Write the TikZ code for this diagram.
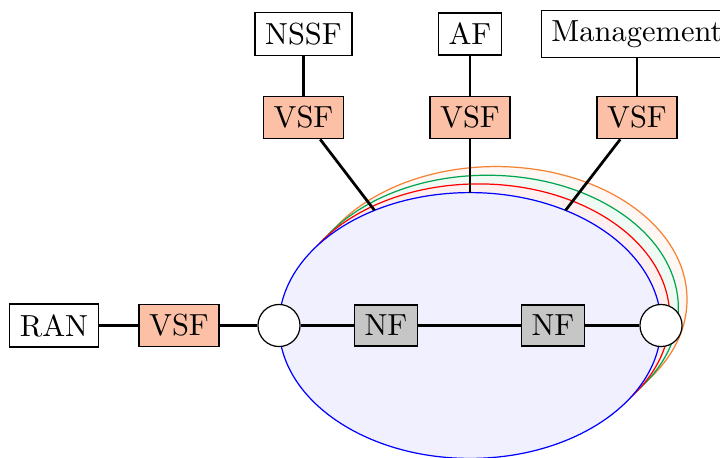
\documentclass[tikz,border=0pt]{standalone}
\usetikzlibrary{calc}
\definecolor{vsffill}{RGB}{251,192,166}
\definecolor{nffill}{RGB}{198,198,198}
\definecolor{ringgreen}{RGB}{0,165,80}
\definecolor{ringorange}{RGB}{245,130,50}
\begin{document}
\begin{tikzpicture}[x=0.328pt,y=-0.328pt,
  box/.style={draw,fill=white,line width=0.4pt},
  vsfbox/.style={draw,fill=vsffill,line width=0.4pt},
  nfbox/.style={draw,fill=nffill,line width=0.4pt},
  hub/.style={circle,draw,fill=white,minimum size=13.8pt,inner sep=0pt,line width=0.4pt},
  link/.style={line width=0.9pt},
  slice/.style={line width=0.4pt}]
\useasboundingbox (0,0) rectangle (720,457);
\coordinate (c) at (470,325.5);
% slice ellipses
\draw[slice,draw=ringorange,fill=ringorange!6] ([xshift=3mm,yshift=3mm]c) ellipse [x radius=62.65pt,y radius=43.6pt];
\draw[slice,draw=ringgreen,fill=ringgreen!6] ([xshift=2mm,yshift=2mm]c) ellipse [x radius=62.65pt,y radius=43.6pt];
\draw[slice,draw=red,fill=red!6] ([xshift=1mm,yshift=1mm]c) ellipse [x radius=62.65pt,y radius=43.6pt];
\draw[slice,draw=blue,fill=blue!6] (c) ellipse [x radius=62.65pt,y radius=43.6pt];
\coordinate (e120) at ($(c)+(120:62.65pt and 43.6pt)$);
\coordinate (e90) at ($(c)+(90:62.65pt and 43.6pt)$);
\coordinate (e60) at ($(c)+(60:62.65pt and 43.6pt)$);
% nodes
\node[box] (ran) at (54,325.5) {RAN};
\node[vsfbox] (vsfl) at (179,325.5) {VSF};
\node[hub] (h1) at (279,325.5) {};
\node[nfbox] (nf1) at (386,325.5) {NF};
\node[nfbox] (nf2) at (553,325.5) {NF};
\node[hub] (h2) at (661,325.5) {};
\node[box] (nssf) at (303.5,34) {NSSF};
\node[box] (af) at (470,34) {AF};
\node[box] (mgmt) at (637,34) {Management};
\node[vsfbox] (vsf1) at (303.5,117.5) {VSF};
\node[vsfbox] (vsf2) at (470,117.5) {VSF};
\node[vsfbox] (vsf3) at (637,117.5) {VSF};
% connectors
\draw[link] (ran) -- (vsfl);
\draw[link] (vsfl) -- (h1);
\draw[link] (h1) -- (nf1);
\draw[link] (nf1) -- (nf2);
\draw[link] (nf2) -- (h2);
\draw[link] (nssf) -- (vsf1);
\draw[link] (af) -- (vsf2);
\draw[link] (mgmt) -- (vsf3);
\draw[link] (vsf1) -- (e120);
\draw[link] (vsf2) -- (e90);
\draw[link] (vsf3) -- (e60);
\end{tikzpicture}
\end{document}
